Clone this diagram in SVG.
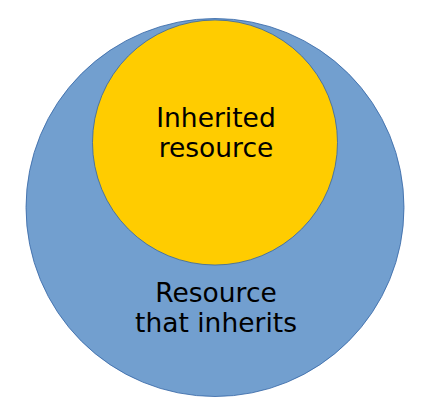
<svg xmlns="http://www.w3.org/2000/svg" width="435" height="419" viewBox="0 0 435 419">
<style>
.lbl{font-family:"DejaVu Sans",sans-serif;font-size:26.5px;fill:#000;text-anchor:middle}
</style>
<rect width="435" height="419" fill="#fff"/>
<g id="outer">
<ellipse cx="215" cy="207.5" rx="189" ry="189" fill="#729fcf" stroke="#3465a4" stroke-width="0.8"/>
<text class="lbl" x="216" y="302">Resource</text>
<text class="lbl" x="216" y="332">that inherits</text>
</g>
<g id="inner">
<ellipse cx="215" cy="142.5" rx="122.5" ry="122.5" fill="#ffcc00" stroke="#3465a4" stroke-width="0.8"/>
<text class="lbl" x="216" y="127">Inherited</text>
<text class="lbl" x="216" y="157">resource</text>
</g>
<g id="connectors"/>
</svg>
